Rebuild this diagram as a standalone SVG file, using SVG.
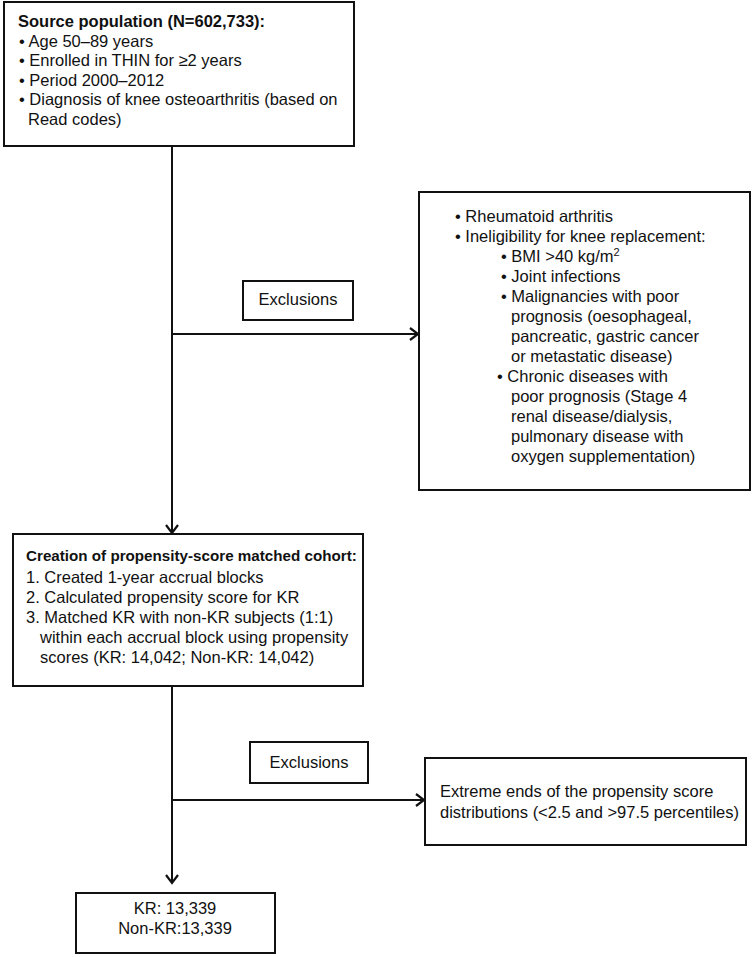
<svg xmlns="http://www.w3.org/2000/svg" width="753" height="957" viewBox="0 0 753 957">
<style>
.box{fill:#fff;stroke:#111;stroke-width:2}
.t{font-family:"Liberation Sans",Arial,sans-serif;font-size:16.5px;fill:#111}
.b{font-weight:bold}
.c{text-anchor:middle}
.ln{fill:none;stroke:#111;stroke-width:2}
</style>
<defs>
<marker id="ah" markerUnits="userSpaceOnUse" markerWidth="14" markerHeight="16" viewBox="-10 -8 12 16" refX="0" refY="0" orient="auto">
<path d="M-8,-6 L0,0 L-8,6" fill="none" stroke="#111" stroke-width="2.2" stroke-linejoin="miter"/>
</marker>
</defs>
<rect width="753" height="957" fill="#fff"/>
<g id="connectors">
<line class="ln" x1="172" y1="146" x2="172" y2="533" marker-end="url(#ah)"/>
<line class="ln" x1="172" y1="334" x2="418" y2="334" marker-end="url(#ah)"/>
<line class="ln" x1="172" y1="686" x2="172" y2="883" marker-end="url(#ah)"/>
<line class="ln" x1="172" y1="800" x2="424" y2="800" marker-end="url(#ah)"/>
</g>
<g id="source">
<rect class="box" x="4" y="2" width="350" height="144"/>
<text class="t b" x="18" y="27">Source population (N=602,733):</text>
<text class="t" x="19" y="46.5">• Age 50–89 years</text>
<text class="t" x="19" y="66">• Enrolled in THIN for ≥2 years</text>
<text class="t" x="19" y="85.5">• Period 2000–2012</text>
<text class="t" x="19" y="105">• Diagnosis of knee osteoarthritis (based on</text>
<text class="t" x="28" y="124.5">Read codes)</text>
</g>
<g id="exclusions1">
<rect class="box" x="243" y="281" width="110" height="39"/>
<text class="t c" x="298" y="305">Exclusions</text>
</g>
<g id="exclusion-criteria">
<rect class="box" x="419" y="192" width="331" height="298"/>
<text class="t" x="455" y="222">• Rheumatoid arthritis</text>
<text class="t" x="455" y="242">• Ineligibility for knee replacement:</text>
<text class="t" x="501" y="262">• BMI &gt;40 kg/m<tspan font-size="11" dy="-6">2</tspan></text>
<text class="t" x="501" y="282">• Joint infections</text>
<text class="t" x="501" y="302">• Malignancies with poor</text>
<text class="t" x="511" y="322">prognosis (oesophageal,</text>
<text class="t" x="511" y="342">pancreatic, gastric cancer</text>
<text class="t" x="511" y="362">or metastatic disease)</text>
<text class="t" x="497" y="382">• Chronic diseases with</text>
<text class="t" x="511" y="402">poor prognosis (Stage 4</text>
<text class="t" x="511" y="422">renal disease/dialysis,</text>
<text class="t" x="511" y="442">pulmonary disease with</text>
<text class="t" x="511" y="462">oxygen supplementation)</text>
</g>
<g id="matched-cohort">
<rect class="box" x="13" y="534" width="350" height="152"/>
<text class="t b" x="26" y="561" style="font-size:15.2px">Creation of propensity-score matched cohort:</text>
<text class="t" x="26" y="583">1. Created 1-year accrual blocks</text>
<text class="t" x="26" y="603">2. Calculated propensity score for KR</text>
<text class="t" x="26" y="623">3. Matched KR with non-KR subjects (1:1)</text>
<text class="t" x="40" y="643">within each accrual block using propensity</text>
<text class="t" x="40" y="663">scores (KR: 14,042; Non-KR: 14,042)</text>
</g>
<g id="exclusions2">
<rect class="box" x="250" y="742" width="118" height="41"/>
<text class="t c" x="309" y="768">Exclusions</text>
</g>
<g id="extreme-ends">
<rect class="box" x="425" y="758" width="321" height="87"/>
<text class="t" x="440" y="797">Extreme ends of the propensity score</text>
<text class="t" x="440" y="818">distributions (&lt;2.5 and &gt;97.5 percentiles)</text>
</g>
<g id="final">
<rect class="box" x="76" y="893" width="199" height="60"/>
<text class="t c" x="175" y="914">KR: 13,339</text>
<text class="t c" x="175" y="934">Non-KR:13,339</text>
</g>
</svg>
